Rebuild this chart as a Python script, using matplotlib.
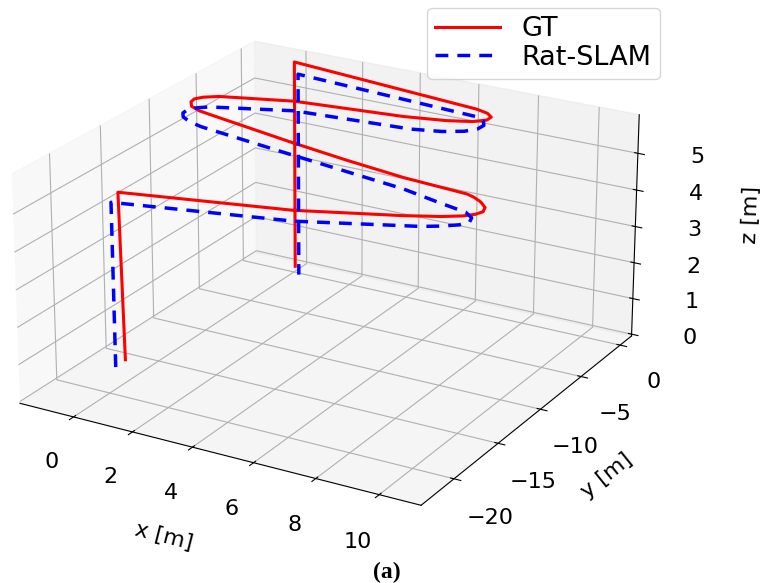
import numpy as np
import matplotlib
matplotlib.use('Agg')
import matplotlib.pyplot as plt

W, H = 762, 583

# GT trajectory [m]
gt_x = [-1.0, -1.12, 4.08, 7.0, 8.0, 8.5, 8.75, 8.85, 8.75, 8.45, 8.1, 7.8,
        6.04, 4.3, 2.61, -0.13, -0.5, -0.85, -1.05, -1.1, -0.95, -0.57,
        1.58, 5.04, 6.3, 7.0, 7.3, 7.3, 7.05, 6.6, -0.2, -0.2]
gt_y = [-15.5, -15.5, -13.21, -10.9, -9.95, -9.3, -8.75, -8.2, -7.6, -7.0, -6.55, -6.3,
        -7.51, -8.1, -8.5, -8.95, -8.85, -8.55, -8.0, -7.5, -7.0, -6.44,
        -4.98, -4.07, -3.45, -2.85, -2.25, -1.7, -1.25, -0.95, 0.8, 0.8]
gt_z = [-0.12, 4.45, 4.5, 4.5, 4.5, 4.5, 4.5, 4.5, 4.5, 4.5, 4.5, 4.5,
        4.83, 5.1, 5.35, 5.75, 5.77, 5.79, 5.8, 5.8, 5.8, 5.8,
        5.8, 5.8, 5.8, 5.8, 5.8, 5.8, 5.8, 5.8, 5.8, -0.05]

# Rat-SLAM trajectory [m]
rs_x = [-1.0, -1.02, 4.36, 7.7, 8.2, 8.6, 8.75, 8.65, 8.3, 7.4, 6.26, 2.83,
        -0.16, -0.6, -0.95, -1.12, -1.15, -1.0, -0.72, 1.65, 5.41, 6.3,
        6.85, 7.1, 7.12, 6.95, 6.65, 0.1, 0.1]
rs_y = [-16.5, -16.5, -14.1, -11.31, -10.7, -10.05, -9.4, -8.8, -8.25, -8.2, -8.28, -9.09,
        -9.64, -9.5, -9.15, -8.66, -8.1, -7.55, -7.07, -5.2, -4.49, -3.95,
        -3.3, -2.6, -1.92, -1.35, -0.89, 0.25, 0.25]
rs_z = [-0.15, 4.35, 4.4, 4.4, 4.4, 4.4, 4.4, 4.4, 4.4, 4.5, 4.68, 5.13,
        5.5, 5.54, 5.57, 5.58, 5.58, 5.58, 5.58, 5.58, 5.58, 5.58,
        5.58, 5.58, 5.58, 5.58, 5.58, 5.58, -0.15]

x_ticks = [0, 2, 4, 6, 8, 10]
y_ticks = [-20, -15, -10, -5, 0]
z_ticks = [0, 1, 2, 3, 4, 5]

fig = plt.figure(figsize=(W / 100, H / 100), dpi=100)
ax = fig.add_axes([-0.0127, -0.0286, 0.8737, 1.1419], projection='3d')
ax.set_xlim(-1.85, 11.3)
ax.set_ylim(-23.6, 1.5)
ax.set_zlim(-0.05, 6.04)
ax.view_init(22.5, -60)
ax.set_box_aspect((4, 4, 2.15))

ax.plot(gt_x, gt_y, gt_z, color='red', lw=2.2, label='GT')
ax.plot(rs_x, rs_y, rs_z, color='blue', lw=2.5, ls=(0, (3.7, 2.6)), label='Rat-SLAM')

ax.set_xticks(x_ticks)
ax.set_yticks(y_ticks)
ax.set_zticks(z_ticks)
ax.xaxis.set_tick_params(labelsize=16, pad=14)
ax.yaxis.set_tick_params(labelsize=16, pad=13.5)
ax.zaxis.set_tick_params(labelsize=16, pad=17)
ax.set_xlabel('x [m]', fontsize=16, labelpad=30)
ax.set_ylabel('y [m]', fontsize=16, labelpad=25)
ax.set_zlabel('z [m]', fontsize=16, labelpad=28)

ax.legend(loc='upper right', bbox_to_anchor=(660 / W, 1 - 8 / H), bbox_transform=fig.transFigure,
          borderaxespad=0, fontsize=19.5, handlelength=2.4, handletextpad=0.8,
          labelspacing=0.1, borderpad=0.3)
fig.text(387 / W, 1 - 572 / H, '(a)', ha='center', va='center', family='Liberation Serif',
         fontweight='bold', fontsize=17)

fig.savefig('out.png', dpi=100)
